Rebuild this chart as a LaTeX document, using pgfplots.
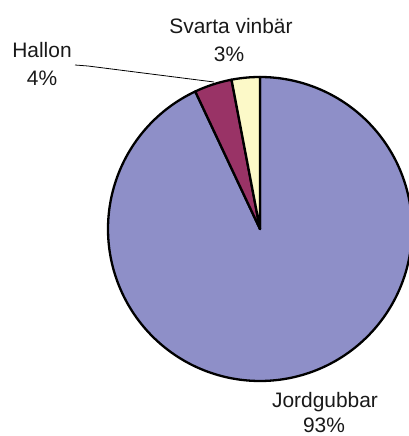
\documentclass[border=0pt]{standalone}
\usepackage{pgfplots}
\pgfplotsset{compat=1.18}
\usepackage{fontspec}
\setmainfont{Liberation Sans}
\definecolor{jord}{HTML}{8E8FC8}
\definecolor{hallon}{HTML}{993366}
\definecolor{svarta}{HTML}{FCF9C8}
% shares in percent
\def\pJ{93}
\def\pH{4}
\def\pS{3}
\pgfmathsetmacro{\aA}{90}
\pgfmathsetmacro{\aB}{\aA-3.6*\pJ}
\pgfmathsetmacro{\aC}{\aB-3.6*\pH}
\pgfmathsetmacro{\aD}{\aC-3.6*\pS}
\begin{document}
\begin{tikzpicture}
\useasboundingbox (0,0) rectangle (409bp,436bp);
\begin{axis}[at={(260bp,207bp)}, anchor=origin, hide axis, scale only axis,
  width=304bp, height=304bp, xmin=-1, xmax=1, ymin=-1, ymax=1, clip=false]
\addplot[fill=jord, draw=black, line width=2.3bp, line join=round, domain=\aB:\aA, samples=240] ({cos(x)},{sin(x)}) -- (axis cs:0,0) -- cycle;
\addplot[fill=hallon, draw=black, line width=2.3bp, line join=round, domain=\aC:\aB, samples=20] ({cos(x)},{sin(x)}) -- (axis cs:0,0) -- cycle;
\addplot[fill=svarta, draw=black, line width=2.3bp, line join=round, domain=\aD:\aC, samples=20] ({cos(x)},{sin(x)}) -- (axis cs:0,0) -- cycle;
\end{axis}
\begin{scope}[x=1bp,y=1bp]
\draw[line width=0.8bp] (75,371) -- (88,370) -- (214,354);
\begin{scope}[every node/.style={font=\fontsize{21}{25}\selectfont, anchor=base, inner sep=0pt, text=black!90}]
\node at (231,402) {Svarta vinbär};
\node at (229,375) {3\%};
\node at (42,379) {Hallon};
\node at (42,351) {4\%};
\node at (325,29) {Jordgubbar};
\node at (324,4) {93\%};
\end{scope}
\end{scope}
\end{tikzpicture}
\end{document}
